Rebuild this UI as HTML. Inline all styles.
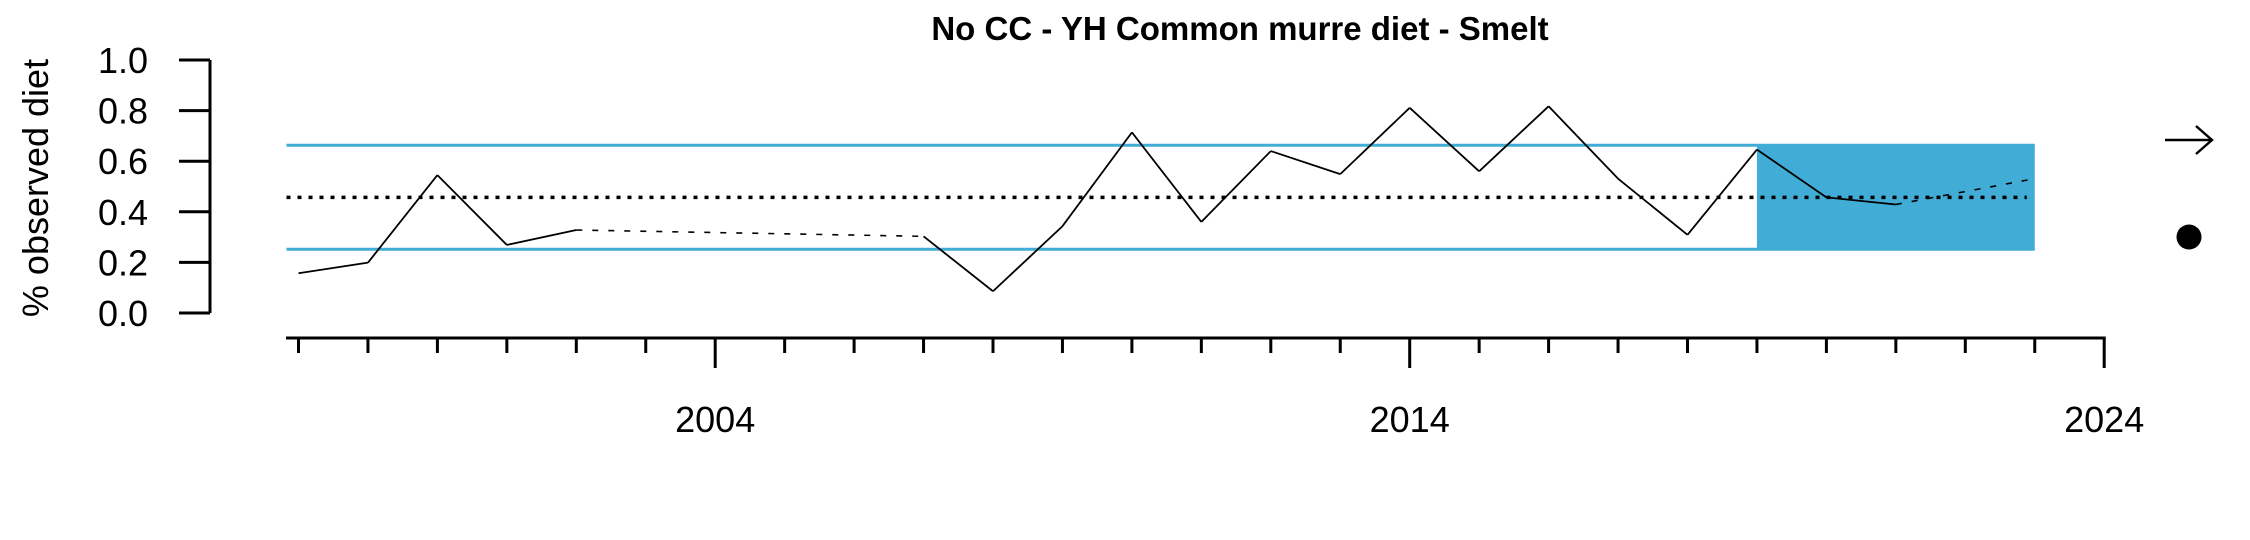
<!DOCTYPE html>
<html><head><meta charset="utf-8"><style>
html,body{margin:0;padding:0;background:#fff;}
svg{display:block;font-family:"Liberation Sans",Arial,sans-serif;}
</style></head><body>
<svg id="chart" width="2250" height="540" viewBox="0 0 2250 540" xmlns="http://www.w3.org/2000/svg">
<text x="1240" y="40" text-anchor="middle" font-size="33" font-weight="bold">No CC - YH Common murre diet - Smelt</text>
<text transform="translate(48,188) rotate(-90)" text-anchor="middle" font-size="36">% observed diet</text>
<g id="plot"></g>
<g>
<line x1="2165" y1="140" x2="2212" y2="140" stroke="#000" stroke-width="2.4"/>
<polyline points="2196,126 2212,140 2196,154" fill="none" stroke="#000" stroke-width="2.4"/>
</g>
<circle cx="2189" cy="237" r="12.5" fill="#000"/>
</svg>
<script>
const years = [1998,1999,2000,2001,2002,2003,2004,2005,2006,2007,2008,2009,2010,2011,2012,2013,2014,2015,2016,2017,2018,2019,2020,2021,2022,2023];
const values = [0.157,0.199,0.545,0.269,0.328,null,null,null,null,0.303,0.086,0.343,0.714,0.36,0.64,0.549,0.811,0.56,0.817,0.531,0.309,0.646,0.457,0.429,null,0.531];
const meanValue = 0.457;
const upperSD = 0.663;
const lowerSD = 0.252;
const shadeStart = 2019;
const shadeEnd = 2023;
const yTicks = [0,0.2,0.4,0.6,0.8,1.0];
const yTickLabels = ["0.0","0.2","0.4","0.6","0.8","1.0"];
const xMajor = [2004,2014,2024];

const NS = "http://www.w3.org/2000/svg";
const g = document.getElementById('plot');
const xS = yr => 298.5 + (yr - 1998) * 69.45;
const yS = v => 313 - v * 253;
function mk(tag, attrs, parent) {
  const e = document.createElementNS(NS, tag);
  for (const k in attrs) e.setAttribute(k, attrs[k]);
  (parent || g).appendChild(e);
  return e;
}
const x0 = xS(years[0]) - 12, x1 = xS(shadeEnd);
let r = mk('rect', {x: xS(shadeStart), y: yS(upperSD), width: xS(shadeEnd) - xS(shadeStart), height: yS(lowerSD) - yS(upperSD), fill: '#41acd6'});


let l = mk('line', {x1: x0, x2: x1, y1: yS(upperSD), y2: yS(upperSD), stroke: '#41acd6', 'stroke-width': 3});


l = mk('line', {x1: x0, x2: x1, y1: yS(lowerSD), y2: yS(lowerSD), stroke: '#41acd6', 'stroke-width': 3});


l = mk('line', {x1: x0, x2: x1 - 8, y1: yS(meanValue), y2: yS(meanValue), stroke: '#000', 'stroke-width': 3.5, 'stroke-dasharray': '4 7'});


let last = null;
for (let i = 0; i < years.length; i++) {
  if (values[i] === null) continue;
  if (last !== null) {
    const contiguous = (i - last) === 1;
    const s = mk('line', {x1: xS(years[last]), y1: yS(values[last]), x2: xS(years[i]), y2: yS(values[i]), stroke: '#000', 'stroke-width': contiguous ? 1.8 : 1.6});
    if (!contiguous) s.setAttribute('stroke-dasharray', '6 10');
    
    
  }
  last = i;
}
const ya = mk('g', {});


mk('line', {x1: 210, x2: 210, y1: yS(0), y2: yS(1), stroke: '#000', 'stroke-width': 3}, ya);
yTicks.forEach((t, i) => {
  mk('line', {x1: 179, x2: 210, y1: yS(t), y2: yS(t), stroke: '#000', 'stroke-width': 3}, ya);
  const tx = mk('text', {x: 148, y: yS(t) + 13, 'text-anchor': 'end', 'font-size': 36}, ya);
  tx.textContent = yTickLabels[i];
  
  
});
const xa = mk('g', {});


mk('line', {x1: 286, x2: xS(2024) + 1.5, y1: 338, y2: 338, stroke: '#000', 'stroke-width': 3}, xa);
for (let yr = 1998; yr <= 2024; yr++) {
  const major = xMajor.includes(yr);
  mk('line', {x1: xS(yr), x2: xS(yr), y1: 338, y2: major ? 368 : 353, stroke: '#000', 'stroke-width': 3}, xa);
}
xMajor.forEach(yr => {
  const tx = mk('text', {x: xS(yr), y: 432, 'text-anchor': 'middle', 'font-size': 36}, xa);
  tx.textContent = yr;
  
  
});
</script>
</body></html>
